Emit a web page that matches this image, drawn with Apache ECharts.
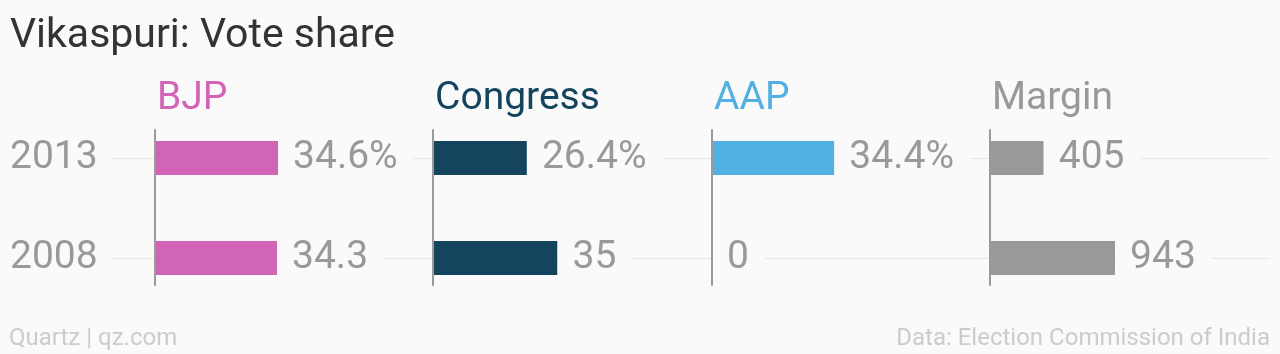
<!DOCTYPE html>
<html><head><meta charset="utf-8">
<script src="https://cdn.jsdelivr.net/npm/echarts@6/dist/echarts.min.js"></script>
<style>html,body{margin:0;padding:0;background:#fafafa}#c{width:1280px;height:354px}</style>
</head><body><div id="c"></div>
<script>
// ---- data ----
const years = ['2013', '2008'];
const parties = ['BJP', 'Congress', 'AAP', 'Margin'];
const bjp = [34.6, 34.3];
const congress = [26.4, 35];
const aap = [34.4, 0];
const margin = [405, 943];
const pctSuffix = ['%', ''];
const titleText = 'Vikaspuri: Vote share';
const sourceLeft = 'Quartz | qz.com';
const sourceRight = 'Data: Election Commission of India';

// ---- layout / style ----
const FONT = 'Roboto, "Noto Sans", sans-serif';
const BG = '#fafafa';
const colors = ['#d264b6', '#15445f', '#52b0e3', '#999999'];
const panelLeft = [155, 433, 712, 990];
const panelWidth = [249, 249, 249, 252];
const panelMax = [70, 70, 70, 1900];
const seriesData = [bjp, congress, aap, margin];
const usePct = [true, true, true, false];

const grid = [{left: 10, right: 10, top: 158, height: 100}];
const xAxis = [{gridIndex: 0, type: 'value', show: false, min: 0, max: 1}];
const yAxis = [{
  gridIndex: 0, type: 'category', data: years, inverse: true, boundaryGap: false,
  axisLine: {show: false}, axisTick: {show: false}, axisLabel: {show: false},
  splitLine: {show: true, lineStyle: {color: '#e6e6e6', width: 1}}, z: 0
}];
const series = [];

for (let i = 0; i < 4; i++) {
  grid.push({left: panelLeft[i], width: panelWidth[i], top: 108, height: 200});
  xAxis.push({gridIndex: i + 1, type: 'value', show: false, min: 0, max: panelMax[i]});
  yAxis.push({
    gridIndex: i + 1, type: 'category', data: years, inverse: true,
    axisLine: {show: false}, axisTick: {show: false}, splitLine: {show: false},
    axisLabel: i === 0 ? {
      show: true, align: 'left', margin: 145, fontSize: 39, color: '#999',
      fontFamily: FONT, backgroundColor: BG, padding: [2, 14, 2, 0]
    } : {show: false},
    z: 1
  });
  const d = seriesData[i];
  const pct = usePct[i];
  series.push({
    type: 'bar', xAxisIndex: i + 1, yAxisIndex: i + 1, data: d, barWidth: 34,
    itemStyle: {color: colors[i]},
    label: {
      show: true, position: 'right', distance: 0, fontSize: 39, color: '#999',
      fontFamily: FONT, backgroundColor: BG, padding: [2, 16, 2, 15],
      formatter: p => pct ? (p.value + pctSuffix[p.dataIndex]) : String(p.value)
    },
    z: 2
  });
}
for (let i = 0; i < 4; i++) {
  grid.push({left: panelLeft[i], width: panelWidth[i], top: 130, height: 155});
  xAxis.push({gridIndex: i + 5, type: 'value', show: false, min: 0, max: panelMax[i]});
  yAxis.push({
    gridIndex: i + 5, type: 'category', data: years, inverse: true,
    axisLine: {show: true, lineStyle: {color: '#9a9a9a', width: 2}},
    axisTick: {show: false}, axisLabel: {show: false}, splitLine: {show: false}, z: 10
  });
}

const graphic = [
  {type: 'text', x: 10, y: 37, z: 20, style: {text: titleText, font: '41px ' + FONT, fill: '#333', verticalAlign: 'middle'}}
];
for (let i = 0; i < 4; i++) {
  graphic.push({type: 'text', x: panelLeft[i] + 2, y: 99, z: 20,
    style: {text: parties[i], font: '39px ' + FONT, fill: colors[i], verticalAlign: 'middle'}});
}
graphic.push({type: 'text', x: 9, y: 339, z: 20, style: {text: sourceLeft, font: '24px ' + FONT, fill: '#cccccc', verticalAlign: 'middle'}});
graphic.push({type: 'text', x: 1270, y: 339, z: 20, style: {text: sourceRight, font: '24px ' + FONT, fill: '#cccccc', verticalAlign: 'middle', align: 'right'}});

const chart = echarts.init(document.getElementById('c'));
chart.setOption({
  animation: false, backgroundColor: BG,
  grid, xAxis, yAxis, series, graphic
});
</script></body></html>
